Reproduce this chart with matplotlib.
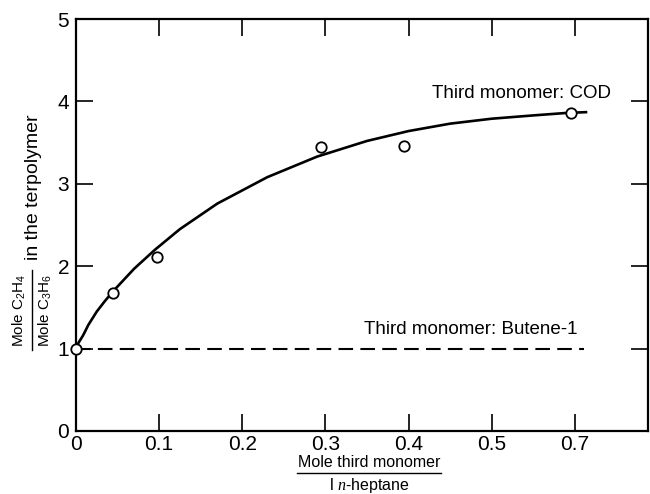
import matplotlib
matplotlib.use("Agg")
import matplotlib.pyplot as plt
import numpy as np

# measured COD points
cod_x = [0, 0.045, 0.097, 0.295, 0.395, 0.69]
cod_y = [1.0, 1.68, 2.11, 3.45, 3.46, 3.86]

# hand drawn fitted curve
curve_x = [0, 0.003, 0.0085, 0.015, 0.025, 0.035, 0.045, 0.07, 0.095, 0.125,
           0.17, 0.23, 0.29, 0.35, 0.40, 0.45, 0.50, 0.60, 0.68, 0.73]
curve_y = [1.0, 1.07, 1.16, 1.29, 1.45, 1.58, 1.70, 1.97, 2.20, 2.45,
           2.76, 3.08, 3.33, 3.52, 3.64, 3.73, 3.79, 3.83, 3.86, 3.87]

# butene-1 reference line
butene_x = [0, 0.722]
butene_y = [1.0, 1.0]

xticks = [0, 0.1, 0.2, 0.3, 0.4, 0.5, 0.7]
xticklabels = ['0', '0.1', '0.2', '0.3', '0.4', '0.5', '0.7']
yticks = [0, 1, 2, 3, 4, 5]


plt.rcParams['font.family'] = ['Liberation Sans', 'DejaVu Sans']
plt.rcParams['mathtext.fontset'] = 'custom'
plt.rcParams['mathtext.rm'] = 'Liberation Sans'
plt.rcParams['mathtext.it'] = 'Liberation Serif:italic'


# the original axis squeezes 0.5 -> 0.7 into one tick interval
def fwd(x):
    x = np.asarray(x, dtype=float)
    return np.where(x <= 0.5, x, 0.5 + (x - 0.5) / 2)


def inv(u):
    u = np.asarray(u, dtype=float)
    return np.where(u <= 0.5, u, 0.5 + (u - 0.5) * 2)


W, H = 650, 494
fig = plt.figure(figsize=(W / 100, H / 100), dpi=100)
left, right, bottom, top = 76, 648, 431, 19
ax = fig.add_axes([left / W, 1 - bottom / H, (right - left) / W, (bottom - top) / H])

ax.set_xscale('function', functions=(fwd, inv))

ax.plot(curve_x, curve_y, color='k', linewidth=1.9, solid_capstyle='butt',
        solid_joinstyle='round')
ax.plot(butene_x, butene_y, color='k', linewidth=1.5, dashes=(7, 3.5))
ax.plot(cod_x, cod_y, linestyle='none', marker='o', markersize=7.5,
        markerfacecolor='white', markeredgecolor='k', markeredgewidth=1.3,
        zorder=5, clip_on=False)

ax.set_xlim(0, inv(0.688))
ax.set_ylim(0, 5)

ax.set_xticks(xticks)
ax.set_xticklabels(xticklabels)
ax.set_yticks(yticks)
ax.minorticks_off()

for lab in ax.get_xticklabels() + ax.get_yticklabels():
    lab.set_fontsize(15)

ax.tick_params(direction='in', length=12, width=1.2, top=True, right=True,
               pad=5)
ax.tick_params(axis='x', pad=3)
for s in ax.spines.values():
    s.set_linewidth(1.6)

# curve labels
fig.text(432 / W, 1 - 93 / H, 'Third monomer: COD', fontsize=13.5,
         ha='left', va='center')
fig.text(577 / W, 1 - 329 / H, 'Third monomer: Butene-1', fontsize=13.5,
         ha='right', va='center')

# x axis label as a fraction
fig.text(369 / W, 1 - 462 / H, 'Mole third monomer', fontsize=11.5,
         ha='center', va='center')
fig.add_artist(plt.Line2D([297 / W, 441 / W], [1 - 473 / H, 1 - 473 / H],
                          color='k', linewidth=1.0))
fig.text(369 / W, 1 - 485 / H, r'l $n$-heptane', fontsize=11.5,
         ha='center', va='center')

# y axis label: fraction followed by text
fig.text(34 / W, 1 - 187 / H, 'in the terpolymer', fontsize=14,
         rotation=90, ha='center', va='center')
fig.text(19 / W, 1 - 310 / H, r'Mole C$_2$H$_4$', fontsize=11,
         rotation=90, ha='center', va='center')
fig.text(45 / W, 1 - 310 / H, r'Mole C$_3$H$_6$', fontsize=11,
         rotation=90, ha='center', va='center')
fig.add_artist(plt.Line2D([32 / W, 32 / W], [1 - 350 / H, 1 - 270 / H],
                          color='k', linewidth=1.0))

fig.savefig('out.png', dpi=100)
